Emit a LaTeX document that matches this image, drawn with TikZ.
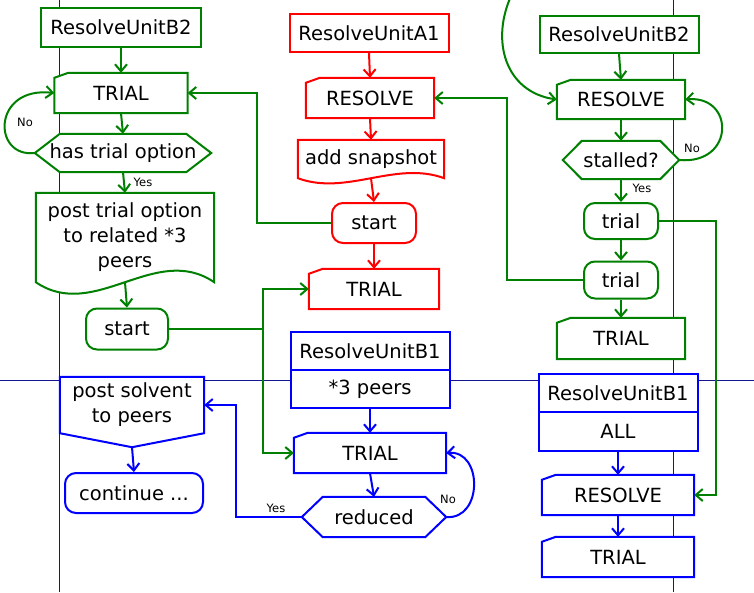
\documentclass[tikz,border=0pt]{standalone}
\usepackage{fontspec}
\setmainfont{DejaVu Sans}
\usetikzlibrary{arrows.meta,backgrounds}

\definecolor{dgreen}{RGB}{0,128,0}
\definecolor{lane}{RGB}{20,20,140}
\newcommand\boxfont{\fontsize{19.5}{25}\selectfont}
\newcommand\notefont{\fontsize{11.5}{13}\selectfont}

\newcommand\inputbox[2]{%
  \begin{pgfonlayer}{background}
  \filldraw[draw=#2, fill=white, line width=2pt] ([yshift=-5]#1.north west) -- ([xshift=14]#1.north west)
    -- (#1.north east) -- (#1.south east) -- (#1.south west) -- cycle;
  \end{pgfonlayer}}
\newcommand\decision[3]{%
  \begin{pgfonlayer}{background}
  \filldraw[draw=#3, fill=white, line width=2pt] (#1.west) -- ([xshift=#2]#1.north west) -- ([xshift=-#2]#1.north east)
    -- (#1.east) -- ([xshift=-#2]#1.south east) -- ([xshift=#2]#1.south west) -- cycle;
  \end{pgfonlayer}}
\newcommand\paperbox[4]{%
  \begin{pgfonlayer}{background}
  \filldraw[draw=#4, fill=white, line width=2pt] (#1.south east) -- (#1.north east) -- (#1.north west) -- (#1.south west)
    .. controls +(#2,#3) and +(-#2,-#3) .. (#1.south east) -- cycle;
  \end{pgfonlayer}}
\newcommand\offpage[3]{%
  \begin{pgfonlayer}{background}
  \filldraw[draw=#3, fill=white, line width=2pt] (#1.north west) -- (#1.north east) -- (#1.south east)
    -- ([yshift=-#2]#1.south) -- (#1.south west) -- cycle;
  \end{pgfonlayer}}

\begin{document}
\begin{tikzpicture}[x=1pt, y=-1pt,
    >={Straight Barb[length=7pt,width=12pt]},
    block/.style={draw, fill=white, rectangle, line width=2pt, inner sep=0pt, font=\boxfont},
    hidden/.style={rectangle, inner sep=0pt, align=center, font=\boxfont},
    terminal/.style={draw, fill=white, rectangle, rounded corners=11pt, line width=2pt, inner sep=0pt, font=\boxfont},
    flow/.style={line width=2pt, ->},
    note/.style={inner sep=0pt, font=\notefont}]
   \useasboundingbox (0,0) rectangle (754,592);
   \begin{pgfonlayer}{background}
   \draw[lane] (59,0) -- (59,592);
   \draw[lane] (673,0) -- (673,592);
   \draw[lane] (0,380) -- (754,380);
   \end{pgfonlayer}

   \node[block, draw=dgreen, minimum width=160, minimum height=39] (lb2) at (121,27.5) {ResolveUnitB2};
   \node[hidden, minimum width=133, minimum height=40] (ltrial) at (121,93) {TRIAL};
   \node[hidden, minimum width=176, minimum height=38] (lhex) at (123,153) {has trial option};
   \node[hidden, minimum width=178, minimum height=89] (lpost) at (125,237.5) {post trial option\\to related *3\\peers};
   \node[terminal, draw=dgreen, minimum width=82, minimum height=41] (lstart) at (127,329) {start};
   \node[hidden, minimum width=144, minimum height=56] (solvent) at (132,405) {post solvent\\to peers};
   \node[terminal, draw=blue, minimum width=138, minimum height=40] (cont) at (134,493) {continue ...};
   \inputbox{ltrial}{dgreen}
   \decision{lhex}{25}{dgreen}
   \paperbox{lpost}{59}{40}{dgreen}
   \offpage{solvent}{14}{blue}

   \node[block, draw=red, minimum width=159, minimum height=38] (aunit) at (369,33) {ResolveUnitA1};
   \node[hidden, minimum width=128, minimum height=40] (ares) at (370,98) {RESOLVE};
   \node[hidden, minimum width=146, minimum height=38] (asnap) at (371,159) {add snapshot};
   \node[terminal, draw=red, minimum width=84, minimum height=40] (astart) at (374,223) {start};
   \node[hidden, minimum width=130, minimum height=40] (atrial) at (374,289) {TRIAL};
   \inputbox{ares}{red}
   \paperbox{asnap}{49}{18}{red}
   \inputbox{atrial}{red}

   \node[block, draw=blue, minimum width=159, minimum height=38] (b1mid) at (370,351) {ResolveUnitB1};
   \node[block, draw=blue, minimum width=159, minimum height=38] (peers) at (370,389) {*3 peers};
   \node[hidden, minimum width=152, minimum height=40] (mtrial) at (370,453) {TRIAL};
   \node[hidden, minimum width=144, minimum height=40] (reduced) at (374,517) {reduced};
   \inputbox{mtrial}{blue}
   \decision{reduced}{21}{blue}

   \node[block, draw=dgreen, minimum width=159, minimum height=37] (rb2) at (619,34.5) {ResolveUnitB2};
   \node[hidden, minimum width=128, minimum height=39] (rres) at (621,99.5) {RESOLVE};
   \node[hidden, minimum width=116, minimum height=38] (rhex) at (621,160) {stalled?};
   \node[terminal, draw=dgreen, minimum width=74, minimum height=36] (rtrial1) at (621,221) {trial};
   \node[terminal, draw=dgreen, minimum width=74, minimum height=37] (rtrial2) at (621,280) {trial};
   \node[hidden, minimum width=128, minimum height=41] (rtrial3) at (621,338.5) {TRIAL};
   \inputbox{rres}{dgreen}
   \decision{rhex}{19}{dgreen}
   \inputbox{rtrial3}{dgreen}

   \node[block, draw=blue, minimum width=159, minimum height=38] (b1right) at (618,393) {ResolveUnitB1};
   \node[block, draw=blue, minimum width=159, minimum height=39] (all) at (618,431.5) {ALL};
   \node[hidden, minimum width=152, minimum height=40] (rres2) at (618,495) {RESOLVE};
   \node[hidden, minimum width=152, minimum height=40] (rtrial4) at (618,557) {TRIAL};
   \inputbox{rres2}{blue}
   \inputbox{rtrial4}{blue}

   \coordinate (stip) at ([yshift=-14]solvent.south);
   \coordinate (topin) at (512,-6);

   \draw[flow, dgreen] (lb2.south) -- (ltrial.north);
   \draw[flow, dgreen] (ltrial.south) -- (lhex.north);
   \draw[flow, dgreen] (lhex.south) -- (lpost.north);
   \draw[flow, dgreen] (lpost.south) -- (lstart.north);
   \draw[flow, dgreen] (lhex.west) .. controls (-8,158) and (-8,86) .. (ltrial.west);
   \draw[flow, dgreen] (astart.west) -- ++(-74,0) |- (ltrial.east);
   \draw[flow, dgreen] (lstart.east) -- ++(94,0) |- (atrial.west);
   \draw[flow, dgreen] (lstart.east) -- ++(94,0) |- (mtrial.west);
   \draw[flow, blue] (stip) -- (cont.north);

   \draw[flow, red] (aunit.south) -- (ares.north);
   \draw[flow, red] (ares.south) -- (asnap.north);
   \draw[flow, red] (asnap.south) -- (astart.north);
   \draw[flow, red] (astart.south) -- (atrial.north);

   \draw[flow, blue] (peers.south) -- (mtrial.north);
   \draw[flow, blue] (mtrial.south) -- (reduced.north);
   \draw[flow, blue] (reduced.east) .. controls (483,520) and (483,450) .. (mtrial.east);
   \draw[flow, blue] (reduced.west) -- ++(-66,0) |- (solvent.east);

   \draw[flow, dgreen] (rb2.south) -- (rres.north);
   \draw[flow, dgreen] (rres.south) -- (rhex.north);
   \draw[flow, dgreen] (rhex.south) -- (rtrial1.north);
   \draw[flow, dgreen] (rtrial1.south) -- (rtrial2.north);
   \draw[flow, dgreen] (rtrial2.south) -- (rtrial3.north);
   \draw[flow, dgreen] (rhex.east) .. controls (735,165) and (735,95) .. (rres.east);
   \draw[flow, dgreen] (topin) .. controls (490,40) and (505,92) .. (rres.west);
   \draw[flow, dgreen] (rtrial2.west) -- ++(-76,0) |- (ares.east);
   \draw[flow, dgreen] (rtrial1.east) -- ++(57,0) |- (rres2.east);

   \draw[flow, blue] (all.south) -- (rres2.north);
   \draw[flow, blue] (rres2.south) -- (rtrial4.north);

   \node[note] (lno) at (25,122) {No};
   \node[note] (lyes) at (143,182) {Yes};
   \node[note] (rno) at (692,148) {No};
   \node[note] (ryes) at (642,188) {Yes};
   \node[note] (mno) at (448,499) {No};
   \node[note] (myes) at (276,508) {Yes};
 \end{tikzpicture}
\end{document}
